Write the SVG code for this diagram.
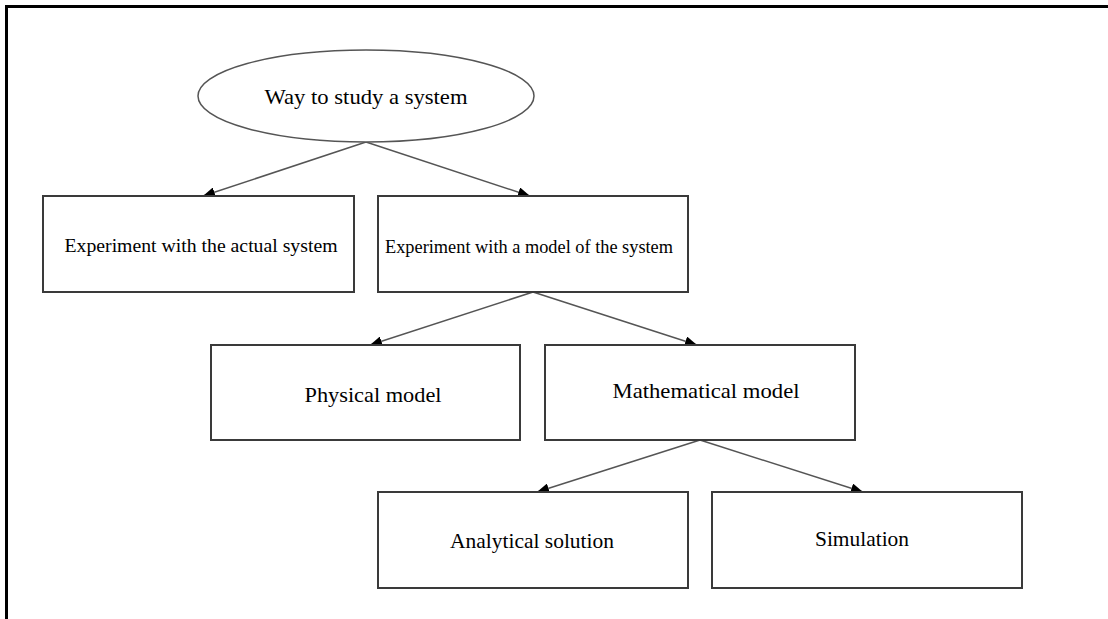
<svg xmlns="http://www.w3.org/2000/svg" width="1108" height="619" viewBox="0 0 1108 619">
<style>
.box{fill:#fff;stroke:#3a3a3a;stroke-width:2}
.t{font-family:"Liberation Serif","Times New Roman",serif;fill:#000;text-anchor:middle}
.c{stroke:#555;stroke-width:1.5;fill:none;marker-end:url(#ah)}
</style>
<defs>
<marker id="ah" viewBox="0 0 12 10" refX="12" refY="5" markerWidth="12" markerHeight="10" markerUnits="userSpaceOnUse" orient="auto">
<path d="M0,0 L12,5 L0,10 z" fill="#000"/>
</marker>
</defs>
<rect width="1108" height="619" fill="#fff"/>
<path d="M6.5,619 V6.5 H1108" fill="none" stroke="#000" stroke-width="3"/>
<g id="connectors">
<line class="c" x1="366" y1="142" x2="203" y2="196"/>
<line class="c" x1="366" y1="142" x2="530" y2="196"/>
<line class="c" x1="533" y1="292" x2="370" y2="345"/>
<line class="c" x1="533" y1="292" x2="697" y2="345"/>
<line class="c" x1="700" y1="440" x2="537" y2="492"/>
<line class="c" x1="700" y1="440" x2="863" y2="492"/>
</g>
<g id="root">
<ellipse cx="366" cy="96" rx="168" ry="46" fill="#fff" stroke="#555" stroke-width="1.5"/>
<text class="t" x="366" y="104" font-size="22" textLength="203" lengthAdjust="spacingAndGlyphs">Way to study a system</text>
</g>
<g id="actual">
<rect class="box" x="43" y="196" width="311" height="96"/>
<text class="t" x="201" y="252" font-size="18" textLength="273" lengthAdjust="spacingAndGlyphs">Experiment with the actual system</text>
</g>
<g id="model">
<rect class="box" x="378" y="196" width="310" height="96"/>
<text class="t" x="529" y="253" font-size="18" textLength="288" lengthAdjust="spacingAndGlyphs">Experiment with a model of the system</text>
</g>
<g id="physical">
<rect class="box" x="211" y="345" width="309" height="95"/>
<text class="t" x="373" y="402" font-size="22" textLength="137" lengthAdjust="spacingAndGlyphs">Physical model</text>
</g>
<g id="mathematical">
<rect class="box" x="545" y="345" width="310" height="95"/>
<text class="t" x="706" y="398" font-size="22" textLength="187" lengthAdjust="spacingAndGlyphs">Mathematical model</text>
</g>
<g id="analytical">
<rect class="box" x="378" y="492" width="310" height="96"/>
<text class="t" x="532" y="548" font-size="22" textLength="164" lengthAdjust="spacingAndGlyphs">Analytical solution</text>
</g>
<g id="simulation">
<rect class="box" x="712" y="492" width="310" height="96"/>
<text class="t" x="862" y="546" font-size="22" textLength="94" lengthAdjust="spacingAndGlyphs">Simulation</text>
</g>
</svg>
